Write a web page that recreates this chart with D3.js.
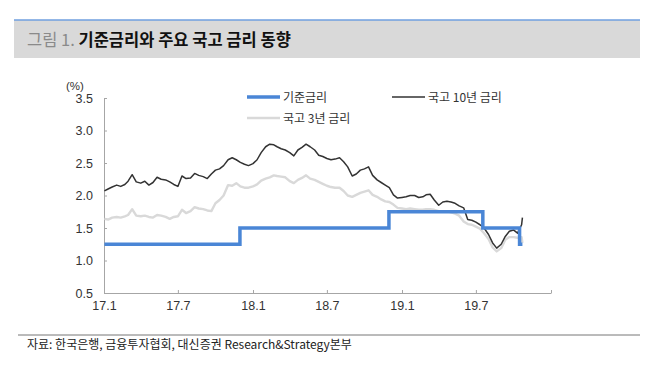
<!DOCTYPE html>
<html>
<head>
<meta charset="utf-8">
<script src="https://cdn.jsdelivr.net/npm/d3@7"></script>
<style>
  body { margin: 0; background: #fff; }
  svg { display: block; font-family: "Liberation Sans", Arial, "Noto Sans CJK KR", sans-serif; }
</style>
</head>
<body>
<div id="chart"></div>
<script>
// 날짜 (1, 11, 21일 기준)
const dates = [
  "2017-01-02","2017-01-11","2017-01-21","2017-02-01","2017-02-11","2017-02-21","2017-03-01","2017-03-11","2017-03-21",
  "2017-04-01","2017-04-11","2017-04-21","2017-05-01","2017-05-11","2017-05-21","2017-06-01","2017-06-11","2017-06-21",
  "2017-07-01","2017-07-11","2017-07-21","2017-08-01","2017-08-11","2017-08-21","2017-09-01","2017-09-11","2017-09-21",
  "2017-10-01","2017-10-11","2017-10-21","2017-11-01","2017-11-11","2017-11-21","2017-12-01","2017-12-11","2017-12-21",
  "2018-01-01","2018-01-11","2018-01-21","2018-02-01","2018-02-11","2018-02-21","2018-03-01","2018-03-11","2018-03-21",
  "2018-04-01","2018-04-11","2018-04-21","2018-05-01","2018-05-11","2018-05-21","2018-06-01","2018-06-11","2018-06-21",
  "2018-07-01","2018-07-11","2018-07-21","2018-08-01","2018-08-11","2018-08-21","2018-09-01","2018-09-11","2018-09-21",
  "2018-10-01","2018-10-11","2018-10-21","2018-11-01","2018-11-11","2018-11-21","2018-12-01","2018-12-11","2018-12-21",
  "2019-01-01","2019-01-11","2019-01-21","2019-02-01","2019-02-11","2019-02-21","2019-03-01","2019-03-11","2019-03-21",
  "2019-04-01","2019-04-11","2019-04-21","2019-05-01","2019-05-11","2019-05-21","2019-06-01","2019-06-11","2019-06-21",
  "2019-07-01","2019-07-11","2019-07-21","2019-08-01","2019-08-11","2019-08-21","2019-09-01","2019-09-11","2019-09-21",
  "2019-10-01","2019-10-11","2019-10-21","2019-10-23"
];

// 국고 10년 금리
const bond10y = [
  2.07,2.10,2.13,2.16,2.14,2.17,2.22,2.32,2.21,
  2.19,2.22,2.16,2.20,2.28,2.25,2.24,2.21,2.17,
  2.14,2.30,2.26,2.27,2.34,2.31,2.29,2.26,2.33,
  2.39,2.41,2.46,2.55,2.58,2.55,2.51,2.48,2.46,
  2.49,2.55,2.66,2.75,2.79,2.78,2.75,2.72,2.70,
  2.66,2.61,2.70,2.74,2.79,2.75,2.70,2.62,2.60,
  2.57,2.55,2.56,2.58,2.52,2.44,2.30,2.33,2.39,
  2.41,2.44,2.31,2.24,2.20,2.16,2.12,2.01,1.96,
  1.97,1.98,2.00,2.00,1.97,1.98,2.01,2.02,1.93,
  1.85,1.90,1.91,1.90,1.88,1.84,1.81,1.63,1.62,
  1.59,1.55,1.50,1.40,1.27,1.19,1.25,1.37,1.45,
  1.47,1.42,1.55,1.66
];

// 국고 3년 금리
const bond3y = [
  1.64,1.63,1.66,1.67,1.66,1.68,1.70,1.79,1.69,
  1.68,1.69,1.67,1.66,1.70,1.69,1.67,1.64,1.67,
  1.68,1.78,1.73,1.76,1.82,1.80,1.79,1.77,1.76,
  1.88,1.93,2.00,2.16,2.15,2.19,2.14,2.12,2.12,
  2.14,2.17,2.23,2.26,2.28,2.31,2.30,2.29,2.28,
  2.22,2.19,2.24,2.27,2.31,2.26,2.24,2.21,2.18,
  2.15,2.13,2.12,2.12,2.07,2.00,1.98,2.01,2.04,
  2.06,2.08,2.01,1.98,1.94,1.91,1.90,1.86,1.81,
  1.80,1.79,1.80,1.79,1.78,1.78,1.79,1.79,1.78,
  1.76,1.75,1.76,1.74,1.72,1.69,1.60,1.56,1.55,
  1.52,1.49,1.42,1.33,1.20,1.14,1.19,1.32,1.36,
  1.36,1.35,1.36,1.27
];

// 기준금리 변경일
const baseDates = ["2017-01-02","2017-11-30","2018-11-30","2019-07-18","2019-10-16","2019-10-23"];
const baseRate  = [1.25, 1.50, 1.75, 1.50, 1.25, 1.25];

const xTickDates = ["2017-01-01","2017-07-01","2018-01-01","2018-07-01","2019-01-01","2019-07-01","2020-01-01"];
const yTicks = [0.5, 1.0, 1.5, 2.0, 2.5, 3.0, 3.5];

const parse = d3.timeParse("%Y-%m-%d");
const fmtX = d3.timeFormat("%y.%-m");

const svgWidth = 654, svgHeight = 384;

const svg = d3.select("#chart")
    .append("svg")
    .attr("width", svgWidth)
    .attr("height", svgHeight);

// 제목 박스
svg.append("rect")
    .attr("x", 14).attr("y", 20)
    .attr("width", 626).attr("height", 38)
    .attr("fill", "#d9d9d9");
svg.append("line")
    .attr("x1", 14).attr("x2", 640)
    .attr("y1", 20).attr("y2", 20)
    .attr("stroke", "#6f9fdf").attr("stroke-width", 1.5);

const title = svg.append("text")
    .attr("x", 27).attr("y", 46)
    .style("font-family", "'Noto Sans CJK KR', sans-serif")
    .style("font-size", "16.5px");
title.append("tspan").attr("fill", "#8a8a8a").text("그림 1. ");
title.append("tspan").attr("fill", "#111").style("font-weight", "bold").text("기준금리와 주요 국고 금리 동향");

const x = d3.scaleTime()
    .domain([parse("2017-01-01"), parse("2020-01-01")])
    .range([104, 551]);

const y = d3.scaleLinear()
    .domain([0.5, 3.5])
    .range([293, 98]);

// 축
const xAxis = svg.append("g")
    .attr("transform", "translate(0,293)")
    .call(d3.axisBottom(x)
        .tickValues(xTickDates.map(parse))
        .tickSize(-3)
        .tickSizeOuter(0)
        .tickPadding(8)
        .tickFormat((d, i) => i < xTickDates.length - 1 ? fmtX(d) : ""));

const yAxis = svg.append("g")
    .attr("transform", "translate(104,0)")
    .call(d3.axisLeft(y)
        .tickValues(yTicks)
        .tickSize(-3)
        .tickSizeOuter(0)
        .tickPadding(11)
        .tickFormat(d3.format(".1f")));

[xAxis, yAxis].forEach(g => {
    g.selectAll("path, line").attr("stroke", "#a6a6a6");
    g.selectAll("text")
        .attr("fill", "#333")
        .style("font-size", "12.5px")
        .style("font-family", "'Liberation Sans', Arial, sans-serif");
});

svg.append("text")
    .attr("x", 66).attr("y", 90)
    .attr("fill", "#333")
    .style("font-size", "11.5px")
    .text("(%)");

// 라인
const rows = dates.map((d, i) => ({ date: parse(d), b10: bond10y[i], b3: bond3y[i] }));
const baseRows = baseDates.map((d, i) => ({ date: parse(d), v: baseRate[i] }));

svg.append("path")
    .datum(rows)
    .attr("fill", "none")
    .attr("stroke", "#d9d9d9")
    .attr("stroke-width", 2.4)
    .attr("stroke-linejoin", "round")
    .attr("d", d3.line().x(d => x(d.date)).y(d => y(d.b3)));

svg.append("path")
    .datum(rows)
    .attr("fill", "none")
    .attr("stroke", "#333")
    .attr("stroke-width", 1.5)
    .attr("stroke-linejoin", "round")
    .attr("d", d3.line().x(d => x(d.date)).y(d => y(d.b10)));

svg.append("path")
    .datum(baseRows)
    .attr("fill", "none")
    .attr("stroke", "#4a86d6")
    .attr("stroke-width", 3.5)
    .attr("d", d3.line().curve(d3.curveStepAfter).x(d => x(d.date)).y(d => y(d.v)));

// 범례
const legendItems = [
    { label: "기준금리", color: "#4a86d6", width: 3.5, x: 247, y: 97 },
    { label: "국고 10년 금리", color: "#333", width: 1.5, x: 392, y: 97 },
    { label: "국고 3년 금리", color: "#d9d9d9", width: 2.4, x: 247, y: 118 }
];

const legend = svg.append("g").attr("class", "legend");
legendItems.forEach(d => {
    legend.append("line")
        .attr("x1", d.x).attr("x2", d.x + 33)
        .attr("y1", d.y).attr("y2", d.y)
        .attr("stroke", d.color)
        .attr("stroke-width", d.width);
    legend.append("text")
        .attr("x", d.x + 36).attr("y", d.y + 4.5)
        .attr("fill", "#333")
        .style("font-size", "12px")
        .style("font-family", "'Noto Sans CJK KR', sans-serif")
        .text(d.label);
});

// 출처
svg.append("line")
    .attr("x1", 18).attr("x2", 640)
    .attr("y1", 335).attr("y2", 335)
    .attr("stroke", "#777").attr("stroke-width", 1);

svg.append("text")
    .attr("x", 27).attr("y", 349)
    .attr("fill", "#222")
    .style("font-size", "12px")
    .style("font-family", "'Noto Sans CJK KR', sans-serif")
    .text("자료: 한국은행, 금융투자협회, 대신증권 Research&Strategy본부");
</script>
</body>
</html>
